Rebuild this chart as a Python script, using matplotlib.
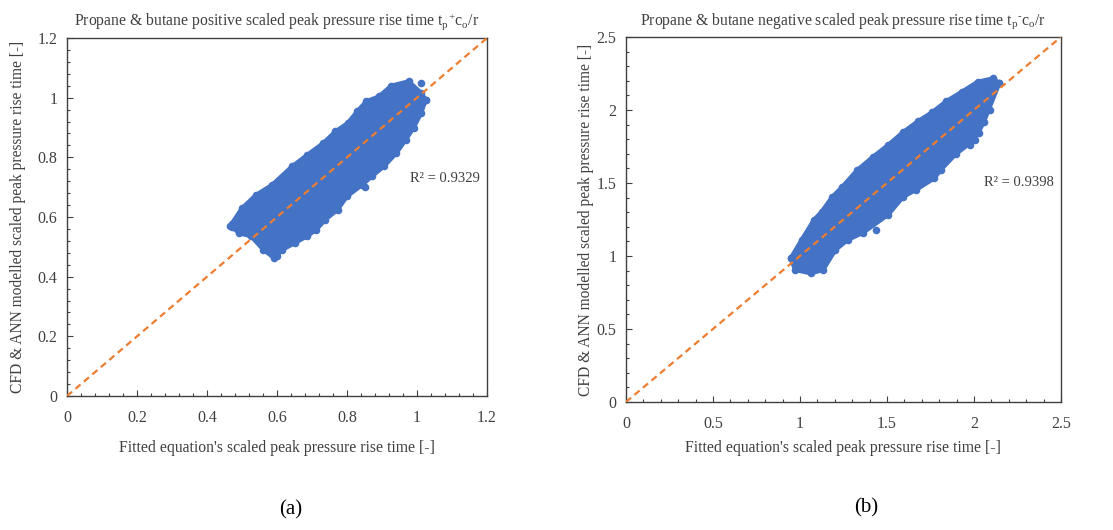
import matplotlib
matplotlib.use("Agg")
import matplotlib.pyplot as plt
from matplotlib.ticker import MultipleLocator, FuncFormatter

plt.rcParams['font.family'] = ['Liberation Serif', 'DejaVu Serif']
plt.rcParams['mathtext.fontset'] = 'custom'
plt.rcParams['mathtext.rm'] = 'Liberation Serif'
plt.rcParams['mathtext.it'] = 'Liberation Serif:italic'

# ---- Panel (a): positive scaled peak pressure rise time (outline of the point cloud) ----
a_up_x = [0.47, 0.50, 0.54, 0.586, 0.643, 0.687, 0.732, 0.767, 0.802, 0.829, 0.855, 0.891, 0.926, 0.976, 1.012, 1.025]
a_up_y = [0.577, 0.63, 0.674, 0.708, 0.770, 0.809, 0.848, 0.887, 0.915, 0.954, 0.988, 1.004, 1.040, 1.055, 1.016, 0.993]
a_lo_x = [0.47, 0.491, 0.526, 0.561, 0.592, 0.615, 0.650, 0.685, 0.712, 0.738, 0.773, 0.80, 0.844, 0.871, 0.906, 0.941, 0.968, 0.99, 1.012, 1.025]
a_lo_y = [0.568, 0.546, 0.535, 0.490, 0.462, 0.490, 0.512, 0.535, 0.557, 0.591, 0.624, 0.669, 0.708, 0.736, 0.770, 0.814, 0.859, 0.898, 0.949, 0.993]
a_out_x = [0.465, 0.60, 0.85, 1.01]
a_out_y = [0.57, 0.47, 0.70, 1.05]
a_r2 = "R² = 0.9329"

# ---- Panel (b): negative scaled peak pressure rise time (outline of the point cloud) ----
b_up_x = [0.946, 1.009, 1.080, 1.124, 1.186, 1.240, 1.329, 1.420, 1.506, 1.595, 1.680, 1.760, 1.840, 1.930, 2.022, 2.111, 2.146]
b_up_y = [0.984, 1.110, 1.247, 1.303, 1.406, 1.470, 1.589, 1.680, 1.760, 1.851, 1.925, 1.985, 2.060, 2.125, 2.194, 2.217, 2.183]
b_lo_x = [0.946, 0.973, 1.062, 1.133, 1.204, 1.275, 1.364, 1.506, 1.595, 1.666, 1.773, 1.809, 1.898, 2.004, 2.058, 2.146]
b_lo_y = [0.984, 0.904, 0.881, 0.904, 1.041, 1.110, 1.160, 1.281, 1.406, 1.452, 1.532, 1.589, 1.700, 1.795, 1.920, 2.183]
b_out_x = [2.093, 1.435, 2.03, 1.98]
b_out_y = [2.000, 1.178, 1.84, 1.76]
b_r2 = "R² = 0.9398"

titles = ["Propane & butane positive scaled peak pressure rise time t$_\\mathregular{p}$$^\\mathregular{+}$c$_\\mathregular{o}$/r",
          "Propane & butane negative scaled peak pressure rise time t$_\\mathregular{p}$$^\\mathregular{\u2010}$c$_\\mathregular{o}$/r"]
xlabel = "Fitted equation's scaled peak pressure rise time [-]"
ylabel = "CFD & ANN modelled scaled peak pressure rise time [-]"
panel_labels = ["(a)", "(b)"]

BLUE = '#4472C4'
ORANGE = '#ED7D31'
TXT = '#404040'

fig = plt.figure(figsize=(11.13, 5.30), dpi=100)
axA = fig.add_axes([0.0602, 0.2528, 0.3774, 0.6755])
axB = fig.add_axes([0.5624, 0.2415, 0.3908, 0.6887])

specs = [
    (axA, a_up_x, a_up_y, a_lo_x, a_lo_y, a_out_x, a_out_y, a_r2, 1.2, 0.2, 0.04, (0.98, 0.73), 10, 8),
    (axB, b_up_x, b_up_y, b_lo_x, b_lo_y, b_out_x, b_out_y, b_r2, 2.5, 0.5, 0.1, (2.06, 1.50), 6, 1.5),
]

fmt = FuncFormatter(lambda v, p: f"{v:g}")
for i, (ax, ux, uy, lx, ly, ox, oy, r2, lim, maj, mnr, r2pos, xlp, ylp) in enumerate(specs):
    px = list(ux) + list(reversed(lx))
    py = list(uy) + list(reversed(ly))
    ax.fill(px, py, color=BLUE, lw=3, ec=BLUE, joinstyle='round', zorder=2)
    ax.scatter(ux + lx, uy + ly, s=30, color=BLUE, lw=0, zorder=2)
    ax.scatter(ox, oy, s=30, color=BLUE, lw=0, zorder=2)
    ax.plot([0, lim], [0, lim], ls=(0, (3, 2)), color=ORANGE, lw=1.6, zorder=3)
    ax.text(r2pos[0], r2pos[1], r2, fontsize=10.5, color=TXT, va='center', ha='left')
    ax.set_xlim(0, lim)
    ax.set_ylim(0, lim)
    ax.xaxis.set_major_locator(MultipleLocator(maj))
    ax.yaxis.set_major_locator(MultipleLocator(maj))
    ax.xaxis.set_minor_locator(MultipleLocator(mnr))
    ax.yaxis.set_minor_locator(MultipleLocator(mnr))
    ax.xaxis.set_major_formatter(fmt)
    ax.yaxis.set_major_formatter(fmt)
    ax.tick_params(which='major', direction='in', length=4, width=0.8, color='#404040',
                   labelsize=11.5, labelcolor=TXT, pad=7)
    ax.tick_params(axis='x', which='major', pad=10)
    ax.tick_params(which='minor', direction='in', length=2.5, width=0.8, color='#404040')
    for s in ax.spines.values():
        s.set_color('#404040')
        s.set_linewidth(1.0)
    ax.set_title(titles[i], fontsize=11.3, color=TXT, pad=9)
    ax.set_xlabel(xlabel, fontsize=11.3, color=TXT, labelpad=xlp)
    ax.set_ylabel(ylabel, fontsize=11.2, color=TXT, labelpad=ylp)

fig.text(291 / 1113, 1 - 510 / 530, panel_labels[0], fontsize=15, ha='center', va='center', color='black')
fig.text(866 / 1113, 1 - 508 / 530, panel_labels[1], fontsize=15, ha='center', va='center', color='black')

fig.savefig("out.png", dpi=100)
